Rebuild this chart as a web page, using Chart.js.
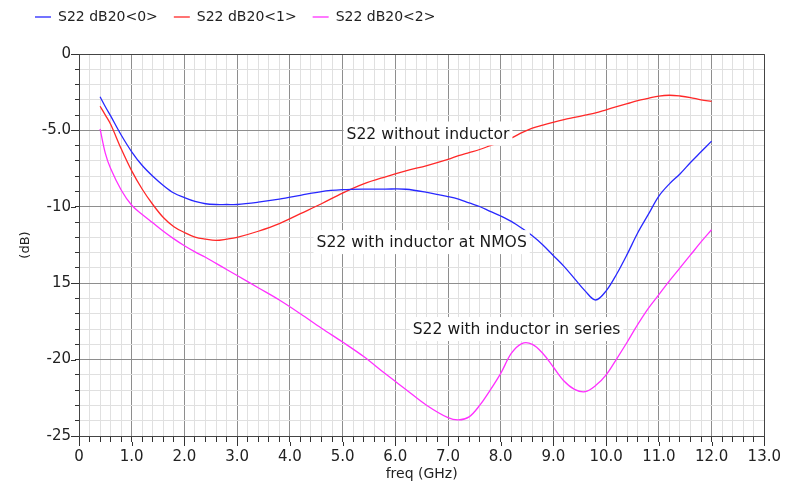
<!DOCTYPE html>
<html>
<head>
<meta charset="utf-8">
<script src="https://cdn.jsdelivr.net/npm/chart.js@4"></script>
<style>
  html, body { margin: 0; padding: 0; background: #fff; }
</style>
</head>
<body>
<canvas id="s22-chart" width="787" height="486"></canvas>
<script>
const freqGHz = [0.4, 0.5, 0.6, 0.8, 1.0, 1.2, 1.4, 1.6, 1.8, 2.0, 2.2, 2.4, 2.6, 2.8, 3.0,
  3.4, 3.8, 4.2, 4.6, 5.0, 5.4, 5.8, 6.2, 6.6, 7.0, 7.2, 7.4, 7.6, 7.8, 8.0, 8.2, 8.4,
  8.6, 8.8, 9.0, 9.2, 9.4, 9.6, 9.8, 10.0, 10.2, 10.4, 10.6, 10.8, 11.0, 11.2, 11.4,
  11.6, 11.8, 12.0];

// S22 dB20<0> : without inductor
const s22Db0 = [-2.8, -3.45, -4.05, -5.3, -6.4, -7.3, -8.0, -8.6, -9.1, -9.4, -9.65, -9.8,
  -9.85, -9.85, -9.85, -9.7, -9.5, -9.25, -9.0, -8.88, -8.84, -8.84, -8.85, -9.05, -9.33,
  -9.5, -9.75, -9.98, -10.3, -10.6, -10.95, -11.4, -11.9, -12.5, -13.2, -13.9, -14.7,
  -15.5, -16.1, -15.5, -14.4, -13.1, -11.7, -10.5, -9.3, -8.5, -7.85, -7.1, -6.4, -5.7];

// S22 dB20<1> : inductor at NMOS
const s22Db1 = [-3.42, -4.0, -4.6, -6.2, -7.65, -8.85, -9.85, -10.7, -11.3, -11.68, -11.98,
  -12.12, -12.2, -12.12, -12.0, -11.6, -11.1, -10.45, -9.8, -9.1, -8.5, -8.05, -7.65, -7.3,
  -6.9, -6.65, -6.45, -6.25, -6.0, -5.75, -5.5, -5.15, -4.85, -4.65, -4.47, -4.3, -4.15,
  -4.0, -3.85, -3.65, -3.45, -3.25, -3.05, -2.9, -2.75, -2.7, -2.75, -2.85, -3.0, -3.1];

// S22 dB20<2> : inductor in series
const s22Db2 = [-4.9, -6.5, -7.5, -8.9, -9.9, -10.5, -11.05, -11.6, -12.1, -12.55, -12.95,
  -13.3, -13.7, -14.1, -14.5, -15.3, -16.1, -17.0, -17.95, -18.85, -19.8, -20.9, -21.95,
  -23.0, -23.8, -23.95, -23.75, -23.0, -22.0, -20.9, -19.6, -18.95, -19.0, -19.6, -20.5,
  -21.4, -21.95, -22.1, -21.7, -21.0, -19.95, -18.85, -17.7, -16.65, -15.75, -14.85, -14.0,
  -13.15, -12.3, -11.5];

const seriesNames = ['S22 dB20<0>', 'S22 dB20<1>', 'S22 dB20<2>'];
const seriesColors = ['#2828ff', '#ff2828', '#ff30ff'];

const xMajorLabels = ['0', '1.0', '2.0', '3.0', '4.0', '5.0', '6.0', '7.0', '8.0', '9.0',
  '10.0', '11.0', '12.0', '13.0'];
const yMajorValues = [0, -5, -10, -15, -20, -25];
const yMajorLabels = ['0', '-5.0', '-10', '15', '-20', '-25'];

const notes = [
  { text: 'S22 without inductor', f: 6.62, db: -5.2 },
  { text: 'S22 with inductor at NMOS', f: 6.5, db: -12.31 },
  { text: 'S22 with inductor in series', f: 8.3, db: -18.0 },
];

const FONT = 'DejaVu Sans';
const MAJOR_GRID = '#8e8e8e';
const MINOR_GRID = '#e0e0e0';

const isWhole = (v) => Math.abs(v - Math.round(v)) < 1e-6;
const isYMajor = (v) => isWhole(v / 5);

const datasets = [s22Db0, s22Db1, s22Db2].map((vals, i) => ({
  label: seriesNames[i],
  data: freqGHz.map((f, j) => ({ x: f, y: vals[j] })),
  borderColor: seriesColors[i],
  backgroundColor: seriesColors[i],
  borderWidth: 1.3,
  pointRadius: 0,
  tension: 0.35,
  fill: false,
}));

// text notes with a white box behind them
const notesPlugin = {
  id: 'notes',
  afterDatasetsDraw(chart) {
    const { ctx, scales } = chart;
    ctx.save();
    ctx.font = '15.6px "' + FONT + '"';
    ctx.textAlign = 'center';
    ctx.textBaseline = 'middle';
    notes.forEach((n) => {
      const px = scales.x.getPixelForValue(n.f);
      const py = scales.y.getPixelForValue(n.db);
      const w = ctx.measureText(n.text).width;
      ctx.fillStyle = '#fff';
      ctx.fillRect(px - w / 2 - 3, py - 12, w + 6, 24);
      ctx.fillStyle = '#1a1a1a';
      ctx.fillText(n.text, px, py + 1);
    });
    ctx.restore();
  },
};

// top/right frame and longer tick marks at the labelled values
const framePlugin = {
  id: 'frame',
  afterDraw(chart) {
    const { ctx, chartArea: a, scales } = chart;
    ctx.save();
    ctx.strokeStyle = '#444';
    ctx.lineWidth = 1;
    ctx.beginPath();
    ctx.moveTo(Math.round(a.left), Math.round(a.top) + 0.5);
    ctx.lineTo(Math.round(a.right) + 0.5, Math.round(a.top) + 0.5);
    ctx.lineTo(Math.round(a.right) + 0.5, Math.round(a.bottom));
    ctx.stroke();
    ctx.strokeStyle = '#333';
    ctx.beginPath();
    for (let k = 0; k <= 13; k++) {
      const px = Math.round(scales.x.getPixelForValue(k)) + 0.5;
      ctx.moveTo(px, a.bottom + 6);
      ctx.lineTo(px, a.bottom + 10);
    }
    yMajorValues.forEach((v) => {
      const py = Math.round(scales.y.getPixelForValue(v)) + 0.5;
      ctx.moveTo(a.left - 3, py);
      ctx.lineTo(a.left - 8, py);
    });
    ctx.stroke();
    ctx.restore();
  },
};

const ctx = document.getElementById('s22-chart').getContext('2d');
new Chart(ctx, {
  type: 'line',
  data: { datasets },
  plugins: [notesPlugin, framePlugin],
  options: {
    responsive: false,
    animation: false,
    layout: { padding: { left: 19, right: 22, top: -6, bottom: 0 } },
    plugins: {
      legend: {
        position: 'top',
        align: 'start',
        labels: {
          usePointStyle: true,
          pointStyle: 'line',
          pointStyleWidth: 16,
          padding: 16,
          color: '#222',
          font: { family: FONT, size: 14 },
        },
      },
      // empty title, used as a gap between legend and plot
      title: {
        display: true,
        text: '',
        weight: 500,
        padding: { top: 0, bottom: 0 },
        font: { size: 20, lineHeight: 1 },
      },
      tooltip: { enabled: false },
    },
    scales: {
      x: {
        type: 'linear',
        min: 0,
        max: 13,
        afterFit: (s) => { s.height = 50; },
        ticks: {
          stepSize: 0.2,
          autoSkip: false,
          maxRotation: 0,
          minRotation: 0,
          padding: 6,
          color: '#222',
          font: { family: FONT, size: 15 },
          callback: (v) => (isWhole(v) ? xMajorLabels[Math.round(v)] : ''),
        },
        grid: {
          color: (c) => (c.tick && isWhole(c.tick.value) ? MAJOR_GRID : MINOR_GRID),
          tickColor: '#333',
          tickLength: 6,
        },
        border: { color: '#444', width: 1 },
        title: {
          display: true,
          text: 'freq (GHz)',
          color: '#222',
          font: { family: FONT, size: 14 },
          padding: { top: 0, bottom: 3 },
        },
      },
      y: {
        min: -25,
        max: 0,
        afterFit: (s) => { s.width = 60; },
        ticks: {
          stepSize: 1,
          autoSkip: false,
          padding: 4,
          color: '#222',
          font: { family: FONT, size: 15 },
          callback: (v) => {
            const idx = yMajorValues.indexOf(Math.round(v));
            return isYMajor(v) && idx >= 0 ? yMajorLabels[idx] : '';
          },
        },
        grid: {
          color: (c) => (c.tick && isYMajor(c.tick.value) ? MAJOR_GRID : MINOR_GRID),
          tickColor: '#333',
          tickLength: 4,
        },
        border: { color: '#444', width: 1 },
        title: {
          display: true,
          text: '(dB)',
          color: '#222',
          font: { family: FONT, size: 13 },
          padding: { top: -1, bottom: 0 },
        },
      },
    },
  },
});
</script>
</body>
</html>
